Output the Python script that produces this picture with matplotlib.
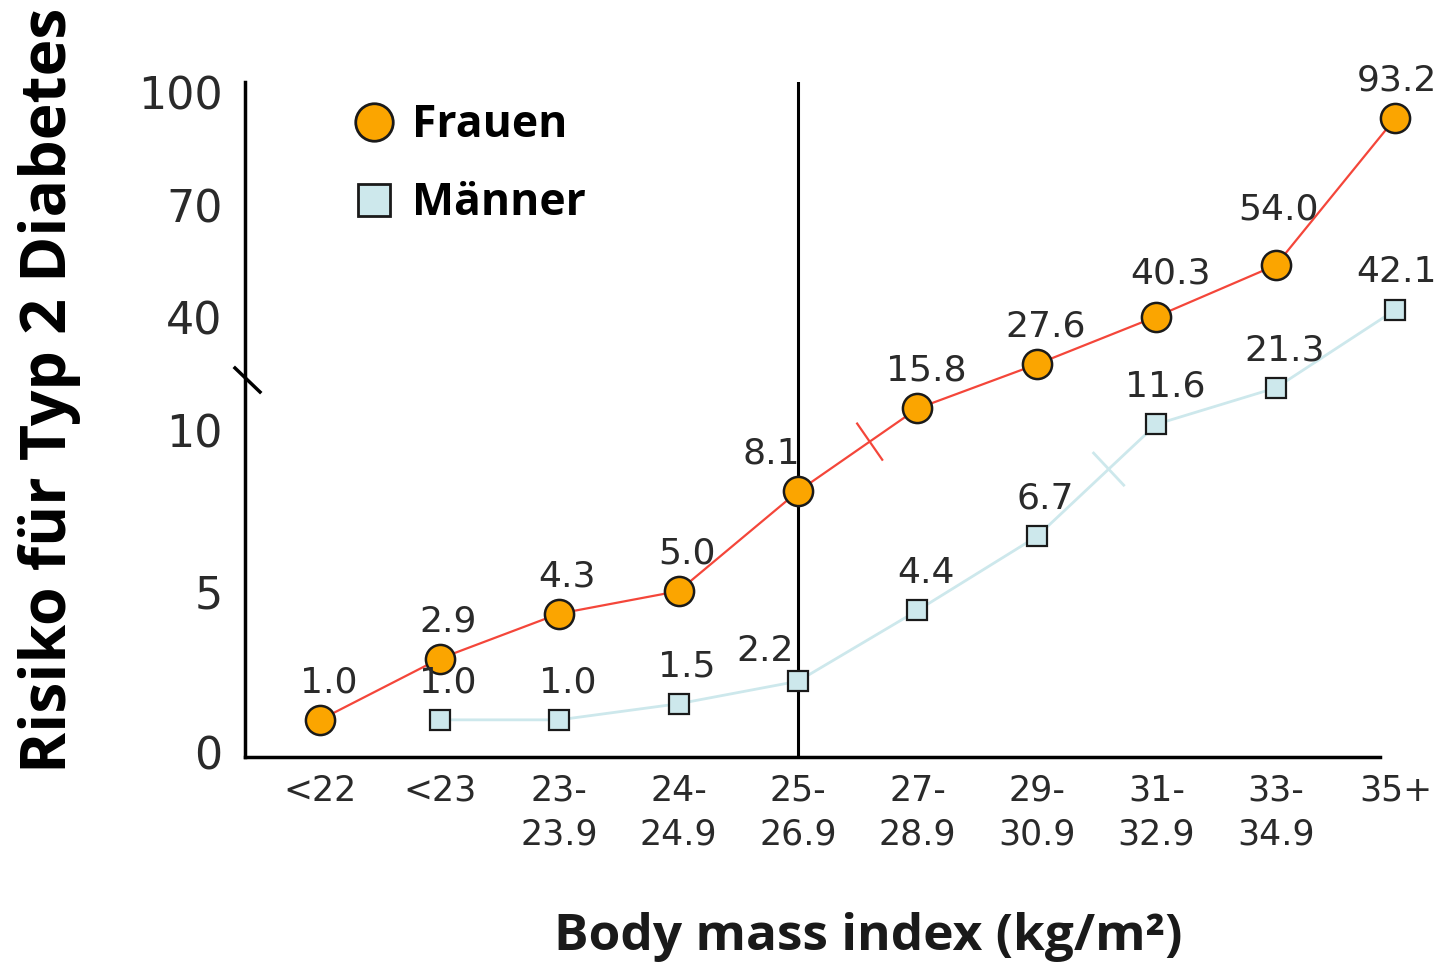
import numpy as np
import matplotlib
matplotlib.use("Agg")
import matplotlib.pyplot as plt
from matplotlib.lines import Line2D

categories = ["<22", "<23", "23-\n23.9", "24-\n24.9", "25-\n26.9", "27-\n28.9",
              "29-\n30.9", "31-\n32.9", "33-\n34.9", "35+"]
frauen = [1.0, 2.9, 4.3, 5.0, 8.1, 15.8, 27.6, 40.3, 54.0, 93.2]
maenner = [1.0, 1.0, 1.5, 2.2, 4.4, 6.7, 11.6, 21.3, 42.1]   # starts at "<23"
y_ticks = [0, 5, 10, 40, 70, 100]

ORANGE = "#FBA500"
RED = "#F4463A"
LIGHTBLUE = "#CDE8EC"
EDGE = "#1a1a1a"
TXT = "#2a2a2a"
BOLD = "Open Sans"

# broken y axis: 0-10 linear, everything above 10 squeezed
SPLIT = 10
SQUEEZE = 0.1166


def fwd(y):
    y = np.asarray(y, dtype=float)
    return np.where(y <= SPLIT, y, SPLIT + (y - SPLIT) * SQUEEZE)


def inv(t):
    t = np.asarray(t, dtype=float)
    return np.where(t <= SPLIT, t, SPLIT + (t - SPLIT) / SQUEEZE)


def break_mark(ax, x, y, i, color, lw, frac=0.6, half=22):
    # short cross stroke on the segment i -> i+1, drawn in pixel space
    p0 = ax.transData.transform((x[i], y[i]))
    p1 = ax.transData.transform((x[i + 1], y[i + 1]))
    m = p0 + frac * (p1 - p0)
    d = (p1 - p0) / np.hypot(*(p1 - p0))
    n = np.array([d[1], -d[0]])
    a, b = ax.transData.inverted().transform([m - half * n, m + half * n])
    ax.plot([a[0], b[0]], [a[1], b[1]], color=color, lw=lw, clip_on=False, zorder=2)


fig = plt.figure(figsize=(14.45, 9.63), dpi=100)
# axes box runs past the end of the drawn x axis so "35+" still gets its tick label
ax = fig.add_axes([0.1696, 0.2139, 0.8209, 0.7009])
ax.set_yscale("function", functions=(fwd, inv))

xf = np.arange(len(frauen))
xm = np.arange(1, len(frauen))

ax.axvline(4, color="black", lw=2.2, zorder=1)

ax.plot(xf, frauen, color=RED, lw=1.6, marker="o", ms=21, mfc=ORANGE, mec=EDGE,
        mew=1.8, clip_on=False, zorder=4)
ax.plot(xm, maenner, color=LIGHTBLUE, lw=2.0, marker="s", ms=14, mfc=LIGHTBLUE,
        mec=EDGE, mew=1.6, clip_on=False, zorder=3)

ax.set_yticks(y_ticks)
ax.set_yticklabels([str(t) for t in y_ticks])
ax.set_xticks(xf)
ax.set_xticklabels(categories, linespacing=1.35)
ax.set_ylim(-0.155, 102.8)
ax.set_xlim(-0.6276, 9.3)
ax.tick_params(axis="y", length=0, pad=16, labelsize=32, labelcolor=TXT)
ax.tick_params(axis="x", length=0, pad=12, labelsize=25, labelcolor=TXT)
ax.minorticks_off()

for s in ["top", "right"]:
    ax.spines[s].set_visible(False)
ax.spines["left"].set_linewidth(2.5)
ax.spines["bottom"].set_linewidth(2.5)
ax.spines["bottom"].set_bounds(-0.6276, 8.87)

break_mark(ax, xf, frauen, 4, RED, 1.6)
break_mark(ax, xm, maenner, 5, LIGHTBLUE, 2.0)

# value labels
shift_f = {4: (-19, 27), 7: (10, 31), 8: (2, 40), 9: (1, 27)}
shift_m = {3: (-24, 22), 8: (1, 27)}
for i, v in enumerate(frauen):
    dx, dy = shift_f.get(i, (6, 27))
    ax.annotate(f"{v:.1f}", (xf[i], v), xytext=(dx, dy), textcoords="offset points",
                ha="center", va="center", fontsize=26, color=TXT, zorder=5,
                annotation_clip=False)
for i, v in enumerate(maenner):
    dx, dy = shift_m.get(i, (6, 27))
    ax.annotate(f"{v:.1f}", (xm[i], v), xytext=(dx, dy), textcoords="offset points",
                ha="center", va="center", fontsize=26, color=TXT, zorder=5,
                annotation_clip=False)

# break mark on the y axis (245 px left edge, ~380 px from top)
ax.plot([235, 260], [595, 571], transform=None, color="black", lw=2.5, clip_on=False)

handles = [
    Line2D([], [], ls="none", marker="o", ms=27, mfc=ORANGE, mec=EDGE, mew=2),
    Line2D([], [], ls="none", marker="s", ms=23, mfc=LIGHTBLUE, mec=EDGE, mew=2),
]
ax.legend(handles, ["Frauen", "Männer"], loc="upper left", bbox_to_anchor=(0.228, 0.916),
          bbox_transform=fig.transFigure, frameon=False, handlelength=1.0,
          handletextpad=0.35, labelspacing=0.75, borderpad=0,
          prop={"family": BOLD, "weight": "bold", "size": 32})

fig.text(0.034, 0.595, "Risiko für Typ 2 Diabetes", rotation=90, ha="center",
         va="center", fontsize=45, fontweight="bold", family=BOLD)
fig.text(0.601, 0.027, "Body mass index (kg/m²)", ha="center", va="center",
         fontsize=37, fontweight="bold", family=BOLD, color="#1a1a1a")

fig.savefig("out.png", dpi=100)
